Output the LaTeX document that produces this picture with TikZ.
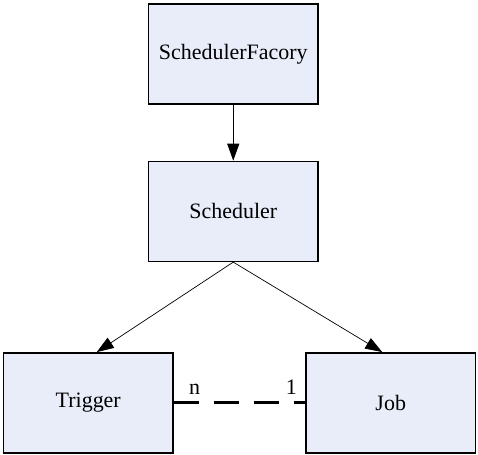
\documentclass[tikz,border=0pt]{standalone}
\usepackage{fontspec}
\setmainfont{Liberation Serif}
\usetikzlibrary{arrows.meta, positioning, calc}
\definecolor{boxfill}{RGB}{233,237,249}

\begin{document}
\begin{tikzpicture}[node distance=1.12cm,
  cls/.style={rectangle, draw=black, fill=boxfill, line width=0.8pt, minimum width=3.39cm, minimum height=2cm, align=center, font=\fontsize{12.5}{15}\selectfont},
  arr/.style={-{Triangle[length=3.4mm, width=2.4mm]}},
  mult/.style={inner sep=0pt, font=\fontsize{12.5}{15}\selectfont},
  link/.style={line width=1.6pt, dash pattern=on 0.5cm off 0.3cm}
]
\useasboundingbox (0,0) rectangle (9.56,-9.1);
\node[cls] (factory) at (4.665,-1.08) {SchedulerFacory};
\node[cls, below=of factory] (sched) {Scheduler};
\node[cls, below=1.8cm of sched, xshift=-2.9cm] (trigger) {Trigger};
\node[cls, below=1.8cm of sched, xshift=3.15cm] (job) {Job};

\draw[arr, line width=0.6pt] (factory) -- (sched);
\draw[arr, line width=0.4pt] (sched.south) -- ([xshift=0.17cm]trigger.north);
\draw[arr, line width=0.4pt] (sched.south) -- ([xshift=-0.17cm]job.north);
\draw[link] (trigger.east) -- (job.west);

\node[mult, anchor=south west] (nlbl) at ([xshift=0.3cm, yshift=0.16cm]trigger.east) {n};
\node[mult, anchor=south east] (onelbl) at ([xshift=-0.16cm, yshift=0.16cm]job.west) {1};
\end{tikzpicture}
\end{document}
